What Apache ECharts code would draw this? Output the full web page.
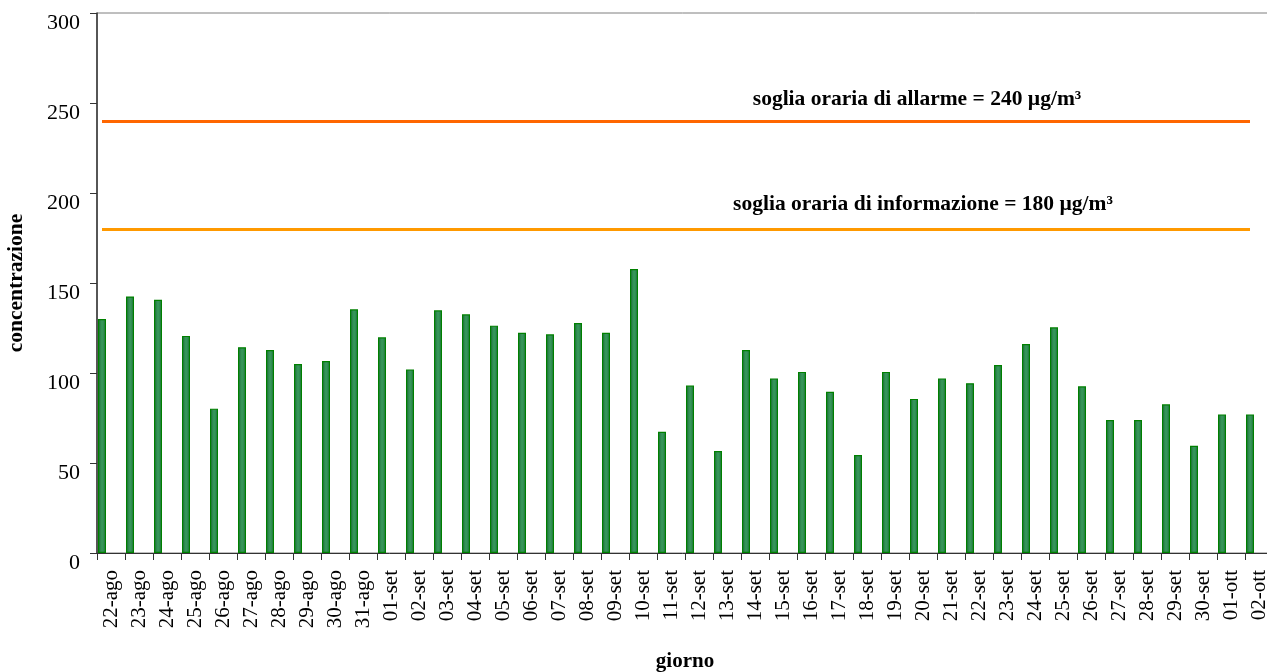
<!DOCTYPE html>
<html>
<head>
<meta charset="utf-8">
<script src="https://cdn.jsdelivr.net/npm/echarts@6/dist/echarts.min.js"></script>
<style>
html,body{margin:0;padding:0;background:#fff;}
#chart{width:1267px;height:672px;}
</style>
</head>
<body>
<div id="chart"></div>
<script>
const categories = ['22-ago','23-ago','24-ago','25-ago','26-ago','27-ago','28-ago','29-ago','30-ago','31-ago',
  '01-set','02-set','03-set','04-set','05-set','06-set','07-set','08-set','09-set','10-set',
  '11-set','12-set','13-set','14-set','15-set','16-set','17-set','18-set','19-set','20-set',
  '21-set','22-set','23-set','24-set','25-set','26-set','27-set','28-set','29-set','30-set',
  '01-ott','02-ott'];
const concentrazione = [130,142.5,140.7,120.6,80.2,114.3,112.8,105,106.7,135.4,
  119.8,102,134.8,132.6,126.3,122.4,121.5,127.8,122.4,157.8,
  67.4,93,56.7,112.8,97,100.6,89.6,54.4,100.6,85.6,
  97,94.3,104.4,116.1,125.4,92.6,73.9,73.9,82.6,59.6,
  77,77];
const sogliaAllarme = 240;
const sogliaInformazione = 180;
const yTicks = [0,50,100,150,200,250,300];
const labelAllarme = 'soglia oraria di allarme = 240 µg/m³';
const labelInformazione = 'soglia oraria di informazione = 180 µg/m³';

const FONT = '"Liberation Serif","Times New Roman",serif';
const chart = echarts.init(document.getElementById('chart'), null, {renderer:'canvas'});
chart.setOption({
  animation:false,
  backgroundColor:'#ffffff',
  grid:{left:97, top:13, width:1176, height:540, show:true, borderColor:'#7f7f7f', borderWidth:1,
        containLabel:false, outerBoundsMode:'none'},
  xAxis:{
    type:'category', data:categories, boundaryGap:true,
    axisLine:{lineStyle:{color:'#333333', width:1}},
    axisTick:{show:true, length:7, inside:false, lineStyle:{color:'#333333'}},
    axisLabel:{rotate:90, interval:0, fontFamily:FONT, fontSize:21, color:'#000', margin:17},
    splitLine:{show:false},
    name:'giorno', nameLocation:'middle', nameGap:98,
    nameTextStyle:{fontFamily:FONT, fontSize:21, fontWeight:'bold', color:'#000'}
  },
  yAxis:{
    type:'value', min:yTicks[0], max:yTicks[yTicks.length-1], interval:50,
    axisLine:{show:true, lineStyle:{color:'#333333', width:1.5}},
    axisTick:{show:true, length:7, lineStyle:{color:'#333333'}},
    axisLabel:{fontFamily:FONT, fontSize:22, color:'#000', margin:17, verticalAlign:'top', padding:[-1,0,0,0]},
    splitLine:{show:false},
    name:'concentrazione', nameLocation:'middle', nameGap:70, nameRotate:90,
    nameTextStyle:{fontFamily:FONT, fontSize:21.5, fontWeight:'bold', color:'#000'}
  },
  series:[
    {
      type:'bar', name:'concentrazione', data:concentrazione,
      barWidth:8, barGap:'125%',
      itemStyle:{
        color:new echarts.graphic.LinearGradient(0,0,1,0,[
          {offset:0,color:'#1f6a3b'},{offset:0.5,color:'#389a5c'},{offset:1,color:'#267646'}]),
        borderColor:'#008000', borderWidth:1.2
      },
      markLine:{
        silent:true, symbol:'none', label:{show:false},
        data:[
          [{coord:[categories[0], sogliaAllarme], lineStyle:{color:'#ff6600', width:3, type:'solid'}},
           {coord:[categories[categories.length-1], sogliaAllarme]}],
          [{coord:[categories[0], sogliaInformazione], lineStyle:{color:'#ff9900', width:3, type:'solid'}},
           {coord:[categories[categories.length-1], sogliaInformazione]}]
        ]
      },
      markPoint:{
        silent:true, symbol:'circle', symbolSize:0,
        data:[
          {coord:['20-set', sogliaAllarme], label:{show:true, formatter:labelAllarme, position:'inside', offset:[3,-22], fontFamily:FONT, fontSize:21.5, fontWeight:'bold', color:'#000'}},
          {coord:['20-set', sogliaInformazione], label:{show:true, formatter:labelInformazione, position:'inside', offset:[9,-25], fontFamily:FONT, fontSize:21.5, fontWeight:'bold', color:'#000'}}
        ]
      }
    },
    {type:'bar', name:'spazio', data:[], barWidth:8, silent:true}
  ]
});
</script>
</body>
</html>
